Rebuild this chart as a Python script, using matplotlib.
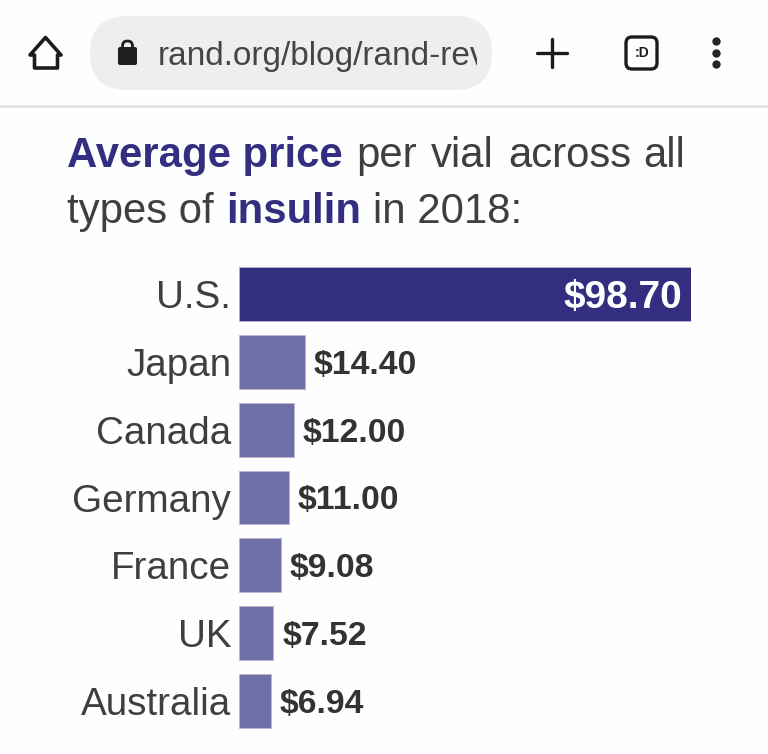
import matplotlib
matplotlib.use("Agg")
import matplotlib.pyplot as plt
from matplotlib.patches import FancyBboxPatch, Rectangle, Polygon

countries = ["U.S.", "Japan", "Canada", "Germany", "France", "UK", "Australia"]
prices = [98.70, 14.40, 12.00, 11.00, 9.08, 7.52, 6.94]
price_labels = ["$98.70", "$14.40", "$12.00", "$11.00", "$9.08", "$7.52", "$6.94"]

W, H = 768, 754
DARK = "#332e80"
LIGHT = "#6f6ea8"
TEXT = "#3f3f3f"

plt.rcParams["font.family"] = ["Liberation Sans", "DejaVu Sans"]

fig = plt.figure(figsize=(W / 100, H / 100), dpi=100, facecolor="#fefefe")

# browser bar and heading, in pixel coordinates
top = fig.add_axes([0, 0, 1, 1])
top.set_xlim(0, W)
top.set_ylim(H, 0)
top.axis("off")

top.add_patch(Rectangle((0, 105), W, 2.5, color="#e4e4e4", lw=0))
top.add_patch(FancyBboxPatch((90, 16), 402, 74, boxstyle="round,pad=0,rounding_size=37",
                             fc="#eceef0", ec="none"))

home = [(45.5, 37.5), (30, 55), (34.5, 55), (34.5, 68), (57.5, 68), (57.5, 55), (61, 55)]
top.add_patch(Polygon(home, closed=True, fc="none", ec="#1c1c1c", lw=2.6, joinstyle="round"))

top.add_patch(FancyBboxPatch((118, 47), 19, 18, boxstyle="round,pad=0,rounding_size=2", fc="#1f1f1f", ec="none"))
top.add_patch(FancyBboxPatch((122.5, 41), 10, 14, boxstyle="round,pad=0,rounding_size=5", fc="none", ec="#1f1f1f", lw=2))

addr = top.text(158, 65, "rand.org/blog/rand-rev", fontsize=24, color="#454545", va="baseline", ha="left")
addr.set_clip_on(True)
addr.set_clip_path(Rectangle((0, 0), 477, H, transform=top.transData))

top.plot([552, 552], [39, 67], color="#1c1c1c", lw=2.4, solid_capstyle="round")
top.plot([537, 567], [53, 53], color="#1c1c1c", lw=2.4, solid_capstyle="round")

top.add_patch(FancyBboxPatch((626, 37), 31, 32, boxstyle="round,pad=0,rounding_size=6", fc="none", ec="#1c1c1c", lw=2.4))
top.text(641.5, 53, ":D", fontsize=10, fontweight="bold", color="#1c1c1c", ha="center", va="center")

top.scatter([716, 716, 716], [41, 53, 64], s=36, color="#262626", lw=0)

top.text(67, 167, "Average price", fontsize=30.2, fontweight="bold", color=DARK, va="baseline")
top.text(356, 167, "per", fontsize=30.2, color=TEXT, va="baseline")
top.text(431, 167, "vial", fontsize=30.2, color=TEXT, va="baseline")
top.text(508, 167, "across", fontsize=30.2, color=TEXT, va="baseline")
top.text(643, 167, "all", fontsize=30.2, color=TEXT, va="baseline")
top.text(67, 223, "types of", fontsize=30.2, color=TEXT, va="baseline")
top.text(226, 223, "insulin", fontsize=30.2, fontweight="bold", color=DARK, va="baseline")
top.text(373, 223, "in 2018:", fontsize=30.2, color=TEXT, va="baseline")

# bars
ax = fig.add_axes([239 / W, 1 - 735 / H, (691 - 239) / W, (735 - 260) / H])
ax.patch.set_alpha(0)
y = list(range(len(countries)))
colors = [DARK] + [LIGHT] * (len(countries) - 1)
ax.barh(y, prices, height=0.795, color=colors, edgecolor="#b9b9d0", linewidth=0.5)
ax.set_xlim(0, prices[0])
ax.set_ylim(len(countries) - 0.5, -0.5)
ax.set_xticks([])
ax.set_yticks(y)
ax.set_yticklabels(countries, fontsize=27.8, color=TEXT, va="center_baseline")
ax.tick_params(axis="y", length=0, pad=5.5)
for s in ax.spines.values():
    s.set_visible(False)

ax.text(prices[0] - 1.9, 0, price_labels[0], color="white", fontsize=28, fontweight="bold", ha="right", va="center_baseline")
for i in y[1:]:
    ax.text(prices[i] + 1.9, i, price_labels[i], color="#333333", fontsize=24.3, fontweight="bold", ha="left", va="center_baseline")

fig.savefig("out.png", dpi=100, facecolor=fig.get_facecolor())
